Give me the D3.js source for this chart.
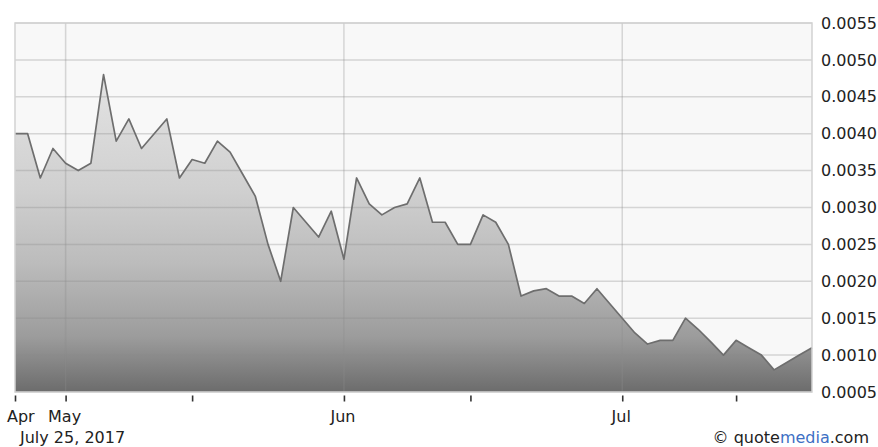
<!DOCTYPE html>
<html>
<head>
<meta charset="utf-8">
<script src="https://cdn.jsdelivr.net/npm/d3@7"></script>
<style>
  html, body { margin: 0; padding: 0; background: #ffffff; }
  svg { display: block; }
  text { font-family: "DejaVu Sans", Verdana, sans-serif; }
</style>
</head>
<body>
<div id="chart"></div>
<script>
// Daily closing prices (trading days, Apr 25 – Jul 25, 2017)
const values = [
  0.0040, 0.0040, 0.0034, 0.0038, 0.0036, 0.0035, 0.0036, 0.0048, 0.0039, 0.0042,
  0.0038, 0.0040, 0.0042, 0.0034, 0.00365, 0.0036, 0.0039, 0.00375, 0.00345, 0.00315,
  0.0025, 0.0020, 0.0030, 0.0028, 0.0026, 0.00295, 0.0023, 0.0034, 0.00305, 0.0029,
  0.0030, 0.00305, 0.0034, 0.0028, 0.0028, 0.0025, 0.0025, 0.0029, 0.0028, 0.0025,
  0.0018, 0.00187, 0.0019, 0.0018, 0.0018, 0.0017, 0.0019, 0.0017, 0.0015, 0.0013,
  0.00115, 0.0012, 0.0012, 0.0015, 0.00135, 0.00118, 0.0010, 0.0012, 0.0011, 0.0010,
  0.0008, 0.0009, 0.0010, 0.0011
];
// Month ticks (trading-day index of first session of each month)
const monthLabels = ["Apr", "May", "Jun", "Jul"];
const monthIndex = [0, 4, 26, 48];
// Mid-month minor ticks
const minorIndex = [14, 36, 57];
// Price axis ticks
const yTicks = [0.0005, 0.0010, 0.0015, 0.0020, 0.0025, 0.0030, 0.0035, 0.0040, 0.0045, 0.0050, 0.0055];
const dateLabel = "July 25, 2017";

const W = 878, H = 447;
const L = 15, R = 812, T = 23, B = 392;
const FS = 16;

const svg = d3.select("#chart").append("svg").attr("width", W).attr("height", H);

const x = d3.scaleLinear().domain([0, values.length - 1]).range([L, R]);
const y = d3.scaleLinear().domain([0.0005, 0.0055]).range([B, T]);

const defs = svg.append("defs");
const grad = defs.append("linearGradient").attr("id", "fillGrad")
  .attr("gradientUnits", "userSpaceOnUse")
  .attr("x1", 0).attr("x2", 0).attr("y1", T).attr("y2", B);
[[0, "#ececec"], [0.45, "#d0d0d0"], [0.65, "#bcbcbc"], [0.85, "#9c9c9c"], [1, "#6c6c6c"]]
  .forEach(([o, c]) => grad.append("stop").attr("offset", o).attr("stop-color", c));

// plot background
svg.append("rect").attr("x", L).attr("y", T).attr("width", R - L).attr("height", B - T)
  .attr("fill", "#f8f8f8");

// area
const area = d3.area().x((d, i) => x(i)).y0(B).y1(d => y(d));
svg.append("path").datum(values).attr("d", area).attr("fill", "url(#fillGrad)");

// gridlines
const grid = svg.append("g").attr("stroke", "rgba(140,140,140,0.32)").attr("stroke-width", 1.5);
grid.selectAll("line.h").data(yTicks).join("line")
  .attr("x1", L).attr("x2", R).attr("y1", d => y(d)).attr("y2", d => y(d));
grid.selectAll("line.v").data(monthIndex.slice(1)).join("line")
  .attr("x1", d => x(d)).attr("x2", d => x(d)).attr("y1", T).attr("y2", B);

// line
const line = d3.line().x((d, i) => x(i)).y(d => y(d));
svg.append("path").datum(values).attr("d", line)
  .attr("fill", "none").attr("stroke", "#6e6e6e").attr("stroke-width", 1.7)
  .attr("stroke-linejoin", "round");

// frame
svg.append("rect").attr("x", L).attr("y", T).attr("width", R - L).attr("height", B - T)
  .attr("fill", "none").attr("stroke", "#d2d2d2").attr("stroke-width", 1.5);

// y axis (right)
const yAxis = d3.axisRight(y).tickValues(yTicks).tickSize(0).tickPadding(9)
  .tickFormat(d3.format(".4f"));
const yg = svg.append("g").attr("transform", `translate(${R},0)`).call(yAxis);
yg.select(".domain").remove();
yg.selectAll("text").attr("font-size", FS).attr("fill", "#222")
  .attr("font-family", "'DejaVu Sans', Verdana, sans-serif");

// x axis ticks
const xAxis = d3.axisBottom(x).tickValues(monthIndex.concat(minorIndex)).tickSize(6).tickFormat("");
const xg = svg.append("g").attr("transform", `translate(0,${B + 3.5})`).call(xAxis);
xg.select(".domain").remove();
xg.selectAll(".tick line").attr("stroke", "#333").attr("stroke-width", 1.6);

// month labels
svg.append("g").selectAll("text").data(monthLabels).join("text")
  .attr("x", (d, i) => i === 0 ? 7 : x(monthIndex[i]) - 1)
  .attr("y", 422)
  .attr("text-anchor", (d, i) => i === 0 ? "start" : "middle")
  .attr("font-size", FS).attr("fill", "#222")
  .text(d => d);

// date label
svg.append("text").attr("x", 20).attr("y", 443).attr("font-size", FS).attr("fill", "#222")
  .text(dateLabel);

// credit
const credit = svg.append("text").attr("x", 869).attr("y", 443).attr("text-anchor", "end")
  .attr("font-size", FS).attr("fill", "#222");
credit.append("tspan").text("© quote");
credit.append("tspan").attr("fill", "#3d6fc4").text("media");
credit.append("tspan").text(".com");
</script>
</body>
</html>
